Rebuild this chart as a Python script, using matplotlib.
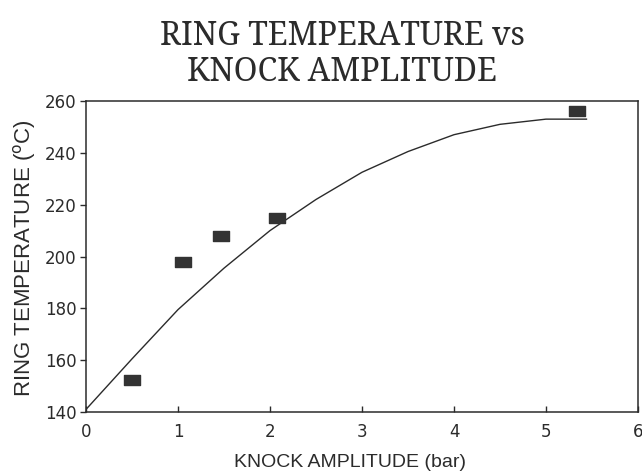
import matplotlib
matplotlib.use("Agg")
import matplotlib.pyplot as plt
from matplotlib.path import Path

# Measured ring temperature against knock amplitude
amp_meas = [0.50, 1.05, 1.47, 2.08, 5.34]
temp_meas = [152.5, 198, 207.8, 215, 256.3]

# Fitted trend curve
amp_fit = [0.0, 0.5, 1.0, 1.5, 2.0, 2.5, 3.0, 3.5, 4.0, 4.5, 5.0, 5.44]
temp_fit = [141, 160.5, 179.5, 195.5, 210, 222, 232.5, 240.5, 247, 251, 253, 253]

x_ticks = [0, 1, 2, 3, 4, 5, 6]
y_ticks = [140, 160, 180, 200, 220, 240, 260]

title_lines = ["RING TEMPERATURE vs", "KNOCK AMPLITUDE"]

ink = "#2b2b2b"
W, H = 642, 472

fig = plt.figure(figsize=(W / 100, H / 100), dpi=100)
ax = fig.add_axes([86 / W, 1 - 412 / H, 552 / W, 311 / H])

ax.plot(amp_fit, temp_fit, color=ink, lw=1.0)

rect = Path([(-1, -0.6), (1, -0.6), (1, 0.6), (-1, 0.6), (-1, -0.6)],
            [Path.MOVETO, Path.LINETO, Path.LINETO, Path.LINETO, Path.CLOSEPOLY])
ax.plot(amp_meas, temp_meas, ls="none", marker=rect, ms=11,
        color="#333333", mec="#333333")

ax.set_xlim(0, 6)
ax.set_ylim(140, 260)
ax.set_xticks(x_ticks)
ax.set_yticks(y_ticks)
ax.set_xticklabels([str(v) for v in x_ticks])
ax.set_yticklabels([str(v) for v in y_ticks])

for s in ax.spines.values():
    s.set_color(ink)
    s.set_linewidth(1.1)

ax.tick_params(axis="x", direction="in", length=4, width=1, colors=ink,
               pad=8, labelsize=12)
ax.tick_params(axis="y", direction="out", length=4, width=1, colors=ink,
               pad=3, labelsize=12)
for lab in ax.get_xticklabels() + ax.get_yticklabels():
    lab.set_family("DejaVu Sans")
    lab.set_color(ink)

ax.set_xlabel("KNOCK AMPLITUDE (bar)", fontsize=14, color=ink,
              family="Liberation Sans")
ax.xaxis.label.set_va("baseline")
ax.xaxis.set_label_coords(0.478, (412 - 467) / 311)

ax.set_ylabel("RING TEMPERATURE ($^{\\mathrm{o}}$C)", fontsize=16, color=ink,
              family="Liberation Sans")
ax.yaxis.label.set_va("baseline")
ax.yaxis.set_label_coords((30 - 86) / 552, 0.495)

# Two-line heading in a narrow serif face
for line, base in zip(title_lines, [45, 81]):
    fig.text(342 / W, 1 - base / H, line, ha="center", va="baseline",
             fontsize=23, color=ink, family="Noto Serif",
             fontstretch="condensed")

fig.savefig("out.png", dpi=100, facecolor="white")
